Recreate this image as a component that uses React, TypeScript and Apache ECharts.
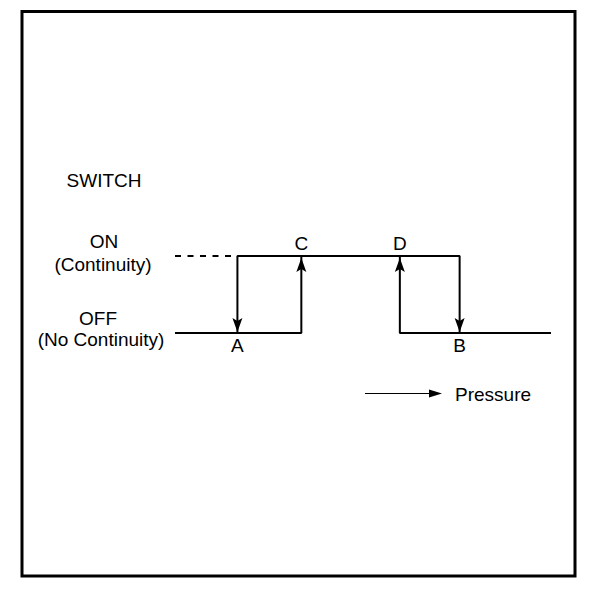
import React, { useEffect, useRef } from "react";
import * as echarts from "echarts";

// Pressure axis (arbitrary units, 0..100) and switch states (OFF = 0, ON = 1)
const pressureRange = [0, 100];
const pointNames = ["A", "C", "D", "B"];
const pointPressure = [16.6, 33.6, 59.8, 75.7]; // A, C, D, B
const OFF = 0;
const ON = 1;

const [A, C, D, B] = pointPressure;

// Rising pressure: off until C, on at C, stays on until B, off after B
const risingPath = [
  [pressureRange[0], OFF],
  [C, OFF],
  [C, ON],
  [B, ON],
  [B, OFF],
  [pressureRange[1], OFF],
];
// Falling pressure: off down to D, on at D, stays on until A, off at A
const fallingPath = [
  [pressureRange[1], OFF],
  [D, OFF],
  [D, ON],
  [A, ON],
  [A, OFF],
];
// Dashed lead-in on the ON level
const dashedLead = [
  [pressureRange[0], ON],
  [A, ON],
];
// Arrow heads: [pressure, level, direction]
const arrowHeads: [number, number, string][] = [
  [A, OFF, "down"],
  [C, ON, "up"],
  [D, ON, "up"],
  [B, OFF, "down"],
];
// Letter labels: A/B under OFF line, C/D over ON line
const letterLevels = [OFF, ON, ON, OFF];

const labels = {
  title: "SWITCH",
  on: "ON",
  onSub: "(Continuity)",
  off: "OFF",
  offSub: "(No Continuity)",
  pressure: "Pressure",
};

const FONT = "'Liberation Sans', Arial, Helvetica, sans-serif";
const DOWN = "path://M5 14 L0 0 L5 3 L10 0 Z";
const UP = "path://M5 0 L10 14 L5 11 L0 14 Z";

export default function App() {
  const ref = useRef<HTMLDivElement>(null);
  useEffect(() => {
    if (!ref.current) return;
    const chart = echarts.init(ref.current, null, { renderer: "svg" });
    const lineStyle = { color: "#000", width: 2 };
    const textStyle = (text: string, x: number, y: number, align = "center") => ({
      type: "text",
      x,
      y,
      silent: true,
      style: {
        text,
        fill: "#000",
        font: `19px ${FONT}`,
        textAlign: align,
        textVerticalAlign: "middle",
      },
    });
    chart.setOption({
      animation: false,
      backgroundColor: "#fff",
      grid: { left: 175, right: 57, top: 256, bottom: 265, show: false },
      xAxis: { type: "value", min: pressureRange[0], max: pressureRange[1], show: false },
      yAxis: { type: "value", min: OFF, max: ON, show: false },
      series: [
        {
          type: "line",
          data: dashedLead,
          symbol: "none",
          lineStyle: { ...lineStyle, type: [6, 6.5] },
          silent: true,
        },
        { type: "line", data: risingPath, symbol: "none", lineStyle, silent: true },
        { type: "line", data: fallingPath, symbol: "none", lineStyle, silent: true },
        {
          type: "scatter",
          silent: true,
          data: arrowHeads.map(([p, lv, dir]) => ({
            value: [p, lv],
            symbol: dir === "down" ? DOWN : UP,
            symbolOffset: dir === "down" ? [0, -8] : [0, 9],
          })),
          symbolSize: [10, 14],
          itemStyle: { color: "#000", opacity: 1 },
        },
        {
          type: "scatter",
          silent: true,
          symbolSize: 0,
          itemStyle: { color: "#000", opacity: 1 },
          data: pointNames.map((n, i) => ({
            name: n,
            value: [pointPressure[i], letterLevels[i]],
            label: {
              show: true,
              position: "inside",
              offset: letterLevels[i] === OFF ? [0, 12] : [0, -13],
              formatter: n,
              color: "#000",
              textBorderWidth: 0,
              fontSize: 19,
              fontFamily: FONT,
            },
          })),
        },
      ],
      graphic: [
        {
          type: "rect",
          shape: { x: 22, y: 11.5, width: 553, height: 564.5 },
          style: { fill: "none", stroke: "#000", lineWidth: 3 },
          silent: true,
        },
        textStyle(labels.title, 104, 180),
        textStyle(labels.on, 104, 241),
        textStyle(labels.onSub, 103, 264),
        textStyle(labels.off, 98, 318),
        textStyle(labels.offSub, 101, 339),
        textStyle(labels.pressure, 455, 394, "left"),
        {
          type: "line",
          shape: { x1: 365, y1: 393.5, x2: 432, y2: 393.5 },
          style: { stroke: "#000", lineWidth: 1 },
          silent: true,
        },
        {
          type: "polygon",
          shape: { points: [[429, 389.5], [442, 393.5], [429, 397.5]] },
          style: { fill: "#000" },
          silent: true,
        },
      ],
    });
    return () => chart.dispose();
  }, []);
  return (
    <div
      ref={ref}
      style={{ position: "fixed", left: 0, top: 0, width: 608, height: 598 }}
    />
  );
}
